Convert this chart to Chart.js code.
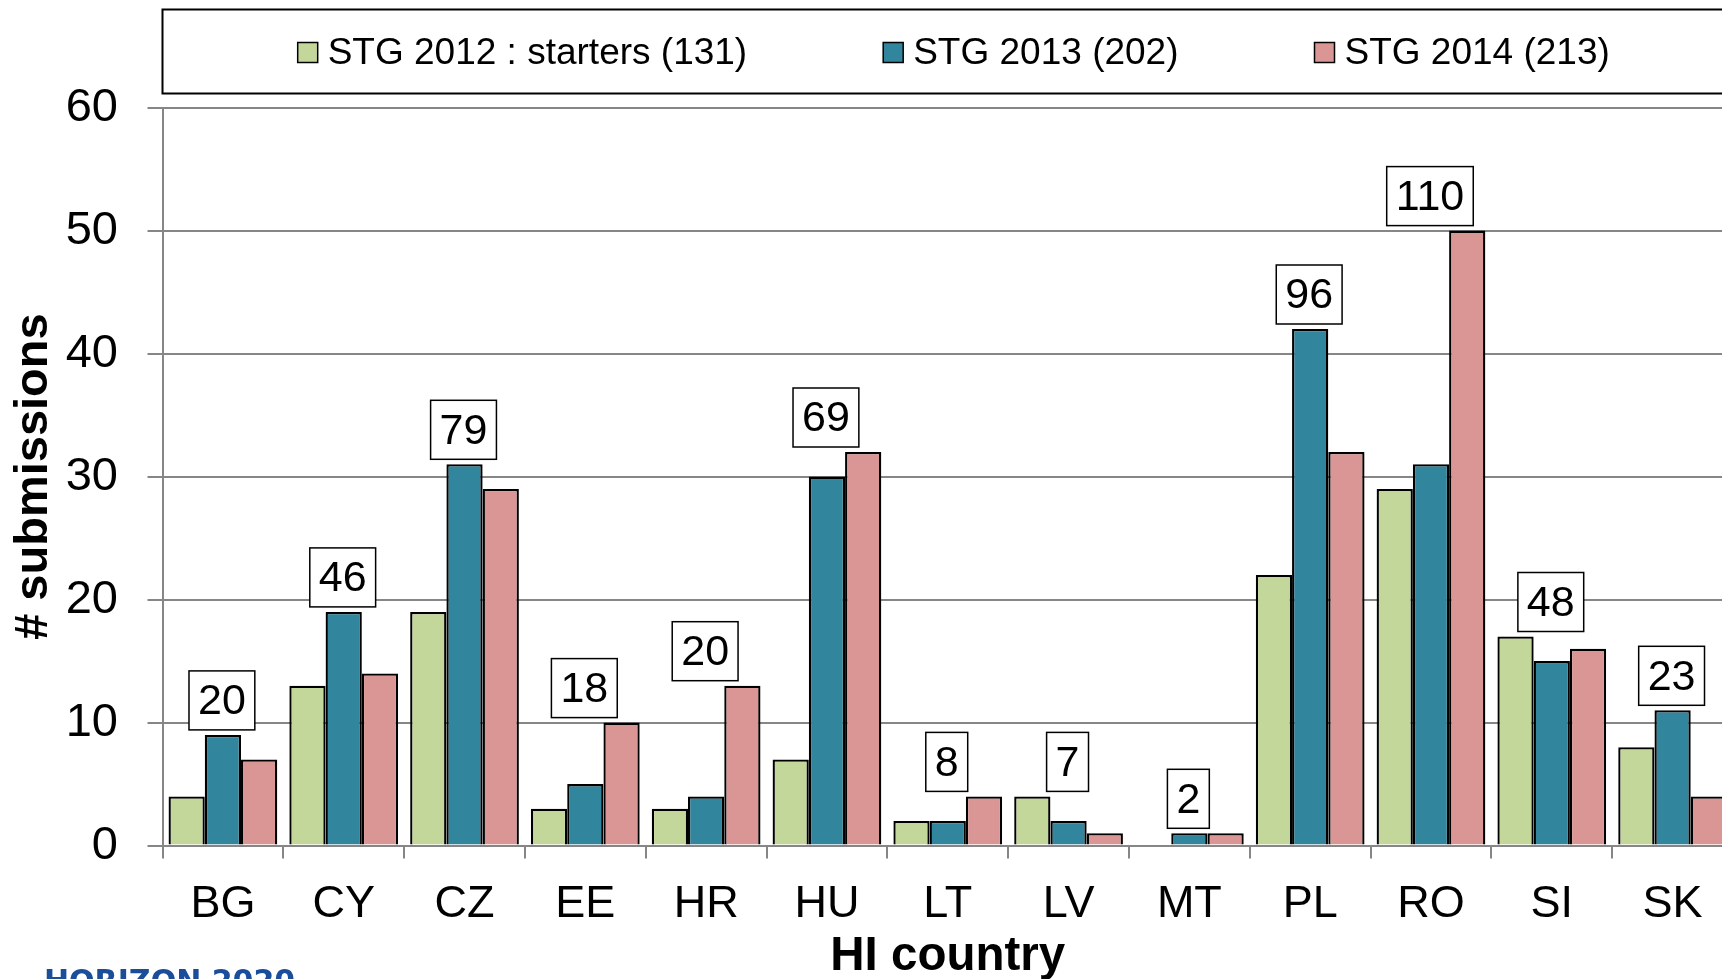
<!DOCTYPE html>
<html><head><meta charset="utf-8">
<script src="https://cdn.jsdelivr.net/npm/chart.js@4.4.1/dist/chart.umd.min.js"></script>
<style>
html,body{margin:0;padding:0;background:#fff;overflow:hidden;width:1722px;height:979px;}
#wrap{position:absolute;left:0;top:0;width:1760px;height:979px;}
#brand{position:absolute;left:44px;top:965.5px;font-family:"DejaVu Sans",sans-serif;font-weight:bold;font-size:30px;line-height:30px;color:#1b4e9a;white-space:nowrap;}
</style></head><body>
<div id="wrap"><canvas id="c"></canvas></div>
<div id="brand">HORIZON 2020</div>
<script>
// ---- data ----
const countries = ['BG','CY','CZ','EE','HR','HU','LT','LV','MT','PL','RO','SI','SK'];
const stg2012 = [4,13,19,3,3,7,2,4,0,22,29,17,8];
const stg2013 = [9,19,31,5,4,30,2,2,1,42,31,15,11];
const stg2014 = [7,14,29,10,13,32,4,1,1,32,50,16,4];
const groupTotals = [20,46,79,18,20,69,8,7,2,96,110,48,23];
const seriesLabels = ['STG 2012 : starters (131)','STG 2013 (202)','STG 2014 (213)'];
const yTicks = [0,10,20,30,40,50,60];

// ---- styling ----
const FONT = '"Liberation Sans", Arial, sans-serif';
const PLOT_LEFT = 162.5, PLOT_TOP = 107.6, PLOT_BOTTOM = 845.6, CANVAS_H = 979, PAD_RIGHT = 27;
const GRID = '#868686';

const totalsPlugin = {
  id: 'totals',
  afterDatasetsDraw(chart) {
    const ctx = chart.ctx, xs = chart.scales.x;
    ctx.save();
    ctx.font = '43px ' + FONT;
    ctx.textAlign = 'center';
    ctx.textBaseline = 'middle';
    groupTotals.forEach((t, j) => {
      let top = Infinity;
      chart.data.datasets.forEach((d, i) => {
        const el = chart.getDatasetMeta(i).data[j];
        if (el) top = Math.min(top, el.y);
      });
      const cx = xs.getPixelForValue(j) - 1;
      const txt = String(t);
      const w = ctx.measureText(txt).width + 18, h = 59;
      const bottom = top - 5;
      ctx.fillStyle = '#fff';
      ctx.fillRect(cx - w / 2, bottom - h, w, h);
      ctx.strokeStyle = '#000';
      ctx.lineWidth = 1.5;
      ctx.strokeRect(cx - w / 2, bottom - h, w, h);
      ctx.fillStyle = '#000';
      ctx.fillText(txt, cx, bottom - h / 2 + 2);
    });
    ctx.restore();
  }
};

const boxLegendPlugin = {
  id: 'boxLegend',
  afterDraw(chart) {
    const ctx = chart.ctx, ca = chart.chartArea;
    ctx.save();
    ctx.strokeStyle = '#000';
    ctx.lineWidth = 2;
    ctx.strokeRect(ca.left, 9.5, chart.width - ca.left + 20, 84);
    ctx.font = '37px ' + FONT;
    const items = chart.data.datasets.map(d => ({ text: d.label, color: d.backgroundColor, w: ctx.measureText(d.label).width }));
    const box = 20, gapBT = 10, gapItems = 136;
    const total = items.reduce((s, it) => s + box + gapBT + it.w, 0) + gapItems * (items.length - 1);
    let x = (ca.left + ca.right) / 2 + 6 - total / 2;
    const cy = 52.5;
    items.forEach(it => {
      ctx.fillStyle = it.color;
      ctx.fillRect(x, cy - box / 2, box, box);
      ctx.strokeStyle = '#000';
      ctx.lineWidth = 1.5;
      ctx.strokeRect(x, cy - box / 2, box, box);
      ctx.fillStyle = '#000';
      ctx.textAlign = 'left';
      ctx.textBaseline = 'middle';
      ctx.fillText(it.text, x + box + gapBT, cy + 1.5);
      x += box + gapBT + it.w + gapItems;
    });
    ctx.restore();
  }
};

new Chart(document.getElementById('c'), {
  type: 'bar',
  data: {
    labels: countries,
    datasets: [
      { label: seriesLabels[0], data: stg2012, backgroundColor: '#C4D79B', borderColor: '#000', borderWidth: 2.3 },
      { label: seriesLabels[1], data: stg2013, backgroundColor: '#31859C', borderColor: '#000', borderWidth: 2.3 },
      { label: seriesLabels[2], data: stg2014, backgroundColor: '#D99694', borderColor: '#000', borderWidth: 2.3 }
    ]
  },
  options: {
    responsive: true,
    maintainAspectRatio: false,
    animation: false,
    layout: { padding: { left: 0, right: PAD_RIGHT, top: PLOT_TOP, bottom: 0 } },
    plugins: { legend: { display: false }, tooltip: { enabled: false } },
    datasets: { bar: { categoryPercentage: 0.9, barPercentage: 1.0 } },
    scales: {
      x: {
        grid: { display: true, drawOnChartArea: false, drawTicks: true, tickLength: 13, color: GRID, lineWidth: 2, offset: true },
        border: { display: true, color: GRID, width: 2 },
        ticks: { font: { family: FONT, size: 45 }, color: '#000', padding: 19, maxRotation: 0, autoSkip: false },
        title: { display: true, text: 'HI country', font: { family: FONT, size: 47.5, weight: 'bold' }, color: '#000', padding: { top: 0, bottom: -6 } },
        afterFit: s => { s.height = CANVAS_H - PLOT_BOTTOM; }
      },
      y: {
        min: 0, max: 60,
        afterBuildTicks: s => { s.ticks = yTicks.map(v => ({ value: v })); },
        ticks: { font: { family: FONT, size: 47 }, color: '#000', padding: 29.5 },
        grid: { color: GRID, lineWidth: 2, tickLength: 15, drawTicks: true },
        border: { display: true, color: GRID, width: 2 },
        title: { display: true, text: '# submissions', font: { family: FONT, size: 47, weight: 'bold' }, color: '#000', padding: { top: 6, bottom: 0 } },
        afterFit: s => { s.width = PLOT_LEFT; }
      }
    }
  },
  plugins: [totalsPlugin, boxLegendPlugin]
});
</script>
</body></html>
